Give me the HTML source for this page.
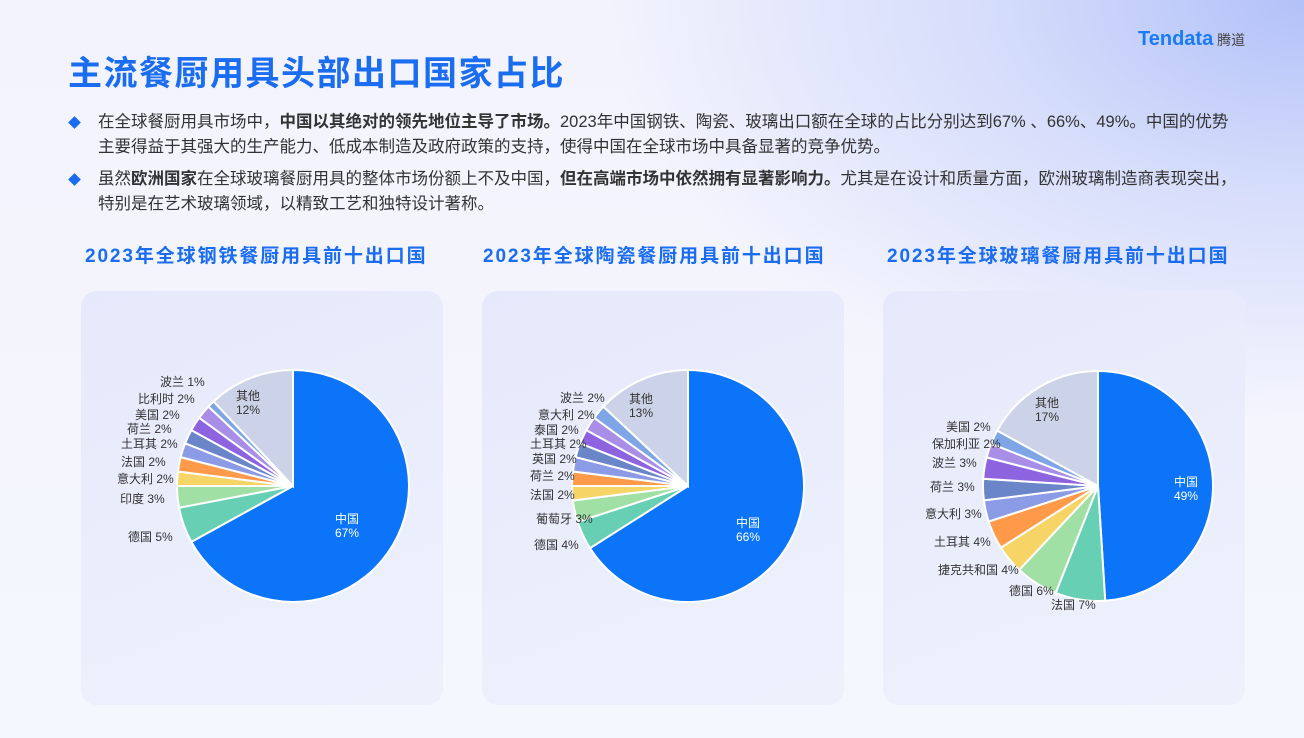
<!DOCTYPE html>
<html><head><meta charset="utf-8"><style>
*{margin:0;padding:0;box-sizing:border-box}
body{width:1304px;height:738px;overflow:hidden;position:relative;font-family:"Liberation Sans","Noto Sans CJK SC",sans-serif;
background:radial-gradient(ellipse 700px 420px at 1304px 0px,#b2c1f8 0%,#d6ddfb 45%,rgba(240,242,253,0) 100%),linear-gradient(180deg,#f3f3fd 0%,#f4f5fd 60%,#f4f8fe 100%);}
.title{position:absolute;left:68px;top:46px;font-size:34px;font-weight:bold;color:#1a6cf0;letter-spacing:1.5px}
.logo{position:absolute;left:1138px;top:28px;font-size:20px;color:#1a7cf5;font-weight:bold}
.logo span{font-size:14px;color:#444;font-weight:normal}
.p{position:absolute;left:98px;font-size:16.5px;color:#333;line-height:25px;white-space:nowrap}
.d{position:absolute;left:70px;width:9px;height:9px;background:#1a6cf0;transform:rotate(45deg)}
.h{position:absolute;top:241px;font-size:19px;font-weight:bold;color:#1a6cf0;letter-spacing:1.9px}
.card{position:absolute;top:291px;width:362px;height:414px;border-radius:16px;background:linear-gradient(160deg,#e6e9fb,#eef1fc)}
.l{position:absolute;font-size:12px;color:#333;white-space:nowrap;line-height:14px}
.w{color:#fff;text-align:center}
svg{position:absolute;left:0;top:0}
</style></head><body>
<div class="title">主流餐厨用具头部出口国家占比</div>
<div class="logo">Tendata<span> 腾道</span></div>
<div class="d" style="top:118px"></div>
<div class="p" style="top:110px">在全球餐厨用具市场中，<b>中国以其绝对的领先地位主导了市场。</b>2023年中国钢铁、陶瓷、玻璃出口额在全球的占比分别达到67% 、66%、49%。中国的优势<br>主要得益于其强大的生产能力、低成本制造及政府政策的支持，使得中国在全球市场中具备显著的竞争优势。</div>
<div class="d" style="top:175px"></div>
<div class="p" style="top:167px">虽然<b>欧洲国家</b>在全球玻璃餐厨用具的整体市场份额上不及中国，<b>但在高端市场中依然拥有显著影响力。</b>尤其是在设计和质量方面，欧洲玻璃制造商表现突出，<br>特别是在艺术玻璃领域，以精致工艺和独特设计著称。</div>
<div class="h" style="left:85px">2023年全球钢铁餐厨用具前十出口国</div>
<div class="h" style="left:483px">2023年全球陶瓷餐厨用具前十出口国</div>
<div class="h" style="left:887px">2023年全球玻璃餐厨用具前十出口国</div>
<div class="card" style="left:81px"></div>
<div class="card" style="left:482px"></div>
<div class="card" style="left:883px"></div>
<svg width="1304" height="738" id="s"></svg>
<div class="l w" style="left:335px;top:512px">中国<br>67%</div>
<div class="l" style="left:236px;top:389px;text-align:center">其他<br>12%</div>
<div class="l" style="left:160px;top:375px">波兰 1%</div>
<div class="l" style="left:138px;top:392px">比利时 2%</div>
<div class="l" style="left:135px;top:408px">美国 2%</div>
<div class="l" style="left:127px;top:422px">荷兰 2%</div>
<div class="l" style="left:121px;top:437px">土耳其 2%</div>
<div class="l" style="left:121px;top:455px">法国 2%</div>
<div class="l" style="left:117px;top:472px">意大利 2%</div>
<div class="l" style="left:120px;top:492px">印度 3%</div>
<div class="l" style="left:128px;top:530px">德国 5%</div>

<div class="l w" style="left:736px;top:516px">中国<br>66%</div>
<div class="l" style="left:629px;top:392px;text-align:center">其他<br>13%</div>
<div class="l" style="left:560px;top:391px">波兰 2%</div>
<div class="l" style="left:538px;top:408px">意大利 2%</div>
<div class="l" style="left:534px;top:423px">泰国 2%</div>
<div class="l" style="left:530px;top:437px">土耳其 2%</div>
<div class="l" style="left:532px;top:452px">英国 2%</div>
<div class="l" style="left:530px;top:469px">荷兰 2%</div>
<div class="l" style="left:530px;top:488px">法国 2%</div>
<div class="l" style="left:536px;top:512px">葡萄牙 3%</div>
<div class="l" style="left:534px;top:538px">德国 4%</div>

<div class="l w" style="left:1174px;top:475px">中国<br>49%</div>
<div class="l" style="left:1035px;top:396px;text-align:center">其他<br>17%</div>
<div class="l" style="left:946px;top:420px">美国 2%</div>
<div class="l" style="left:932px;top:437px">保加利亚 2%</div>
<div class="l" style="left:932px;top:456px">波兰 3%</div>
<div class="l" style="left:930px;top:480px">荷兰 3%</div>
<div class="l" style="left:925px;top:507px">意大利 3%</div>
<div class="l" style="left:934px;top:535px">土耳其 4%</div>
<div class="l" style="left:938px;top:563px">捷克共和国 4%</div>
<div class="l" style="left:1009px;top:584px">德国 6%</div>
<div class="l" style="left:1051px;top:598px">法国 7%</div>
<script>
var C=['#0b74f9','#66cfb4','#a0e0a4','#f7d466','#ff9a4a','#8c9be6','#6a86c8','#8e63e0','#a98ee8','#7ea6e6','#ccd2e8'];
var s=document.getElementById('s'),h='';
function pie(cx,cy,r,v){var a=0;for(var i=0;i<v.length;i++){var b=a+v[i]/100*2*Math.PI;
var x1=cx+r*Math.sin(a),y1=cy-r*Math.cos(a),x2=cx+r*Math.sin(b),y2=cy-r*Math.cos(b);
h+='<path d="M'+cx+' '+cy+'L'+x1+' '+y1+'A'+r+' '+r+' 0 '+((b-a)>Math.PI?1:0)+' 1 '+x2+' '+y2+'Z" fill="'+C[i]+'" stroke="#fff" stroke-width="2"/>';a=b;}}
pie(293,486,116,[67,5,3,2,2,2,2,2,2,1,12]);
pie(688,486,116,[66,4,3,2,2,2,2,2,2,2,13]);
pie(1098,486,115,[49,7,6,4,4,3,3,3,2,2,17]);
s.innerHTML=h;
</script>
</body></html>
